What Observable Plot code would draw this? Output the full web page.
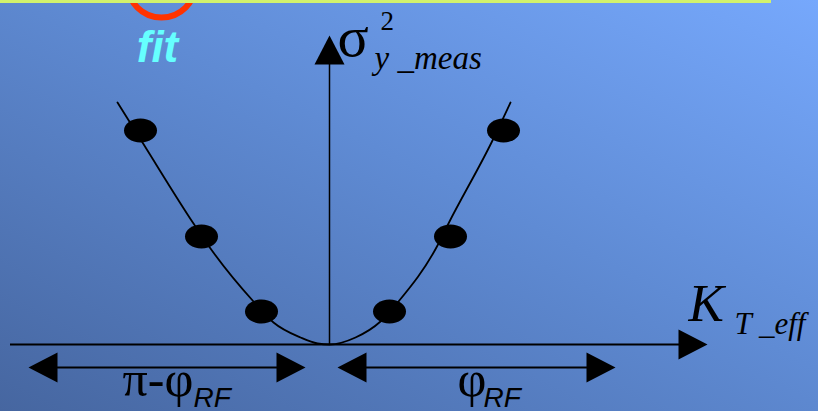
<!DOCTYPE html>
<html>
<head>
<meta charset="utf-8">
<script src="https://cdn.jsdelivr.net/npm/d3@7"></script>
<script src="https://cdn.jsdelivr.net/npm/@observablehq/plot@0.6"></script>
<style>
  html, body { margin: 0; padding: 0; background: #5a82c8; }
  #chart svg { display: block; }
</style>
</head>
<body>
<div id="chart"></div>
<script>
// Phase scan: measured vertical beam size squared vs effective kick K_T_eff.
// x: kick (arbitrary units, 0 at the minimum); y: sigma^2 (arbitrary units).

// Fitted curve, sampled along the drawn fit
const fitX = [-2.12, -1.87, -1.36, -1.19, -0.76, -0.56, -0.29, -0.12, 0, 0.26, 0.51, 0.69, 1.08, 1.19, 1.63, 1.81];
const fitY = [2.42, 2.02, 1.21, 0.96, 0.43, 0.22, 0.07, 0.01, 0, 0.07, 0.23, 0.43, 0.99, 1.21, 2.04, 2.42];

// Measurements
const measX = [-1.89, -1.28, -0.68, 0.60, 1.21, 1.74];
const measY = [2.14, 1.08, 0.33, 0.33, 1.08, 2.14];

// Axis extents
const axisXStart = -3.19, axisXTip = 3.78, axisYTip = 3.09;

// Phase-span dimension arrows (pi - phi_RF on the left, phi_RF on the right)
const spanLabels = ["π-φ", "φ"];
const spanFrom = [-3.01, 0.08];
const spanTo = [-0.24, 2.86];
const spanLabelX = [-2.07, 1.28];
const spanSubX = [-1.36, 1.54];
const spanLevel = -0.23;

const fit = fitX.map((x, i) => ({x, y: fitY[i]}));
const meas = measX.map((x, i) => ({x, y: measY[i]}));
const spans = spanFrom.map((x1, i) => ({
  x1, x2: spanTo[i], y: spanLevel, label: spanLabels[i], lx: spanLabelX[i], sx: spanSubX[i]
}));

// Filled arrowhead with its tip at the anchor point, pointing up before rotation
const head = {
  draw(ctx) {
    ctx.moveTo(0, 0);
    ctx.lineTo(15, 29);
    ctx.lineTo(-15, 29);
    ctx.closePath();
  }
};
// Flattened marker for data points
const ellipse = {
  draw(ctx) {
    const rx = 16.5, ry = 12, k = 0.5523;
    ctx.moveTo(rx, 0);
    ctx.bezierCurveTo(rx, ry * k, rx * k, ry, 0, ry);
    ctx.bezierCurveTo(-rx * k, ry, -rx, ry * k, -rx, 0);
    ctx.bezierCurveTo(-rx, -ry * k, -rx * k, -ry, 0, -ry);
    ctx.bezierCurveTo(rx * k, -ry, rx, -ry * k, rx, 0);
    ctx.closePath();
  }
};

const heads = [
  {x: axisXTip, y: 0, rotate: 90},
  {x: 0, y: axisYTip, rotate: 0},
  ...spans.flatMap(s => [{x: s.x1, y: s.y, rotate: -90}, {x: s.x2, y: s.y, rotate: 90}])
];

const serif = "'Liberation Serif', 'Times New Roman', serif";
const sans = "'Liberation Sans', Arial, sans-serif";

const chart = Plot.plot({
  width: 818,
  height: 411,
  margin: 0,
  x: {domain: [-3.29, 4.89], range: [0, 818], axis: null},
  y: {domain: [-0.67, 3.44], range: [411, 0], axis: null},
  style: {
    background: "linear-gradient(to top right, #4666a0 0%, #5f8bd4 55%, #76a8fc 100%)",
    overflow: "visible"
  },
  marks: [
    // axes
    Plot.ruleY([0], {x1: axisXStart, x2: axisXTip - 0.25, stroke: "black", strokeWidth: 1.8}),
    Plot.ruleX([0], {y1: 0, y2: axisYTip - 0.25, stroke: "black", strokeWidth: 1.5}),
    // span arrows
    Plot.ruleY(spans, {y: "y", x1: d => d.x1 + 0.2, x2: d => d.x2 - 0.2, stroke: "black", strokeWidth: 2}),
    Plot.dot(heads, {x: "x", y: "y", rotate: "rotate", symbol: head, fill: "black", stroke: "none"}),
    // fit and measurements
    Plot.line(fit, {x: "x", y: "y", curve: "monotone-x", stroke: "black", strokeWidth: 1.8}),
    Plot.dot(meas, {x: "x", y: "y", symbol: ellipse, fill: "black", stroke: "none"}),
    // axis titles
    Plot.text(["σ"], {x: 0.08, y: 2.89, textAnchor: "start", lineAnchor: "bottom", fontFamily: serif, fontSize: 58, fill: "black"}),
    Plot.text(["2"], {x: 0.51, y: 3.15, textAnchor: "start", lineAnchor: "bottom", fontFamily: serif, fontSize: 27, fill: "black"}),
    Plot.text(["y _meas"], {x: 0.45, y: 2.76, textAnchor: "start", lineAnchor: "bottom", fontFamily: serif, fontStyle: "italic", fontSize: 33, fill: "black"}),
    Plot.text(["K"], {x: 3.59, y: 0.24, textAnchor: "start", lineAnchor: "bottom", fontFamily: serif, fontStyle: "italic", fontSize: 53, fill: "black"}),
    Plot.text(["T _eff"], {x: 4.05, y: 0.11, textAnchor: "start", lineAnchor: "bottom", fontFamily: serif, fontStyle: "italic", fontSize: 31, fill: "black"}),
    // span labels
    Plot.text(spans, {x: "lx", y: -0.51, text: "label", textAnchor: "start", lineAnchor: "bottom", fontFamily: serif, fontSize: 50, fill: "black"}),
    Plot.text(spans, {x: "sx", y: -0.62, text: () => "RF", textAnchor: "start", lineAnchor: "bottom", fontFamily: sans, fontStyle: "italic", fontSize: 28, fill: "black"}),
    // fit annotation
    Plot.dot([{x: -1.68, y: 3.61}], {x: "x", y: "y", r: 34, fill: "none", stroke: "#ff3300", strokeWidth: 6}),
    Plot.text(["fit"], {x: -1.72, y: 2.83, textAnchor: "middle", lineAnchor: "bottom", fontFamily: sans, fontWeight: "bold", fontStyle: "italic", fontSize: 44, fill: "#66ffff"}),
    Plot.ruleY([3.43], {x1: -3.29, x2: 4.42, stroke: "#d2f26c", strokeWidth: 3})
  ]
});

document.getElementById("chart").append(chart);
</script>
</body>
</html>
